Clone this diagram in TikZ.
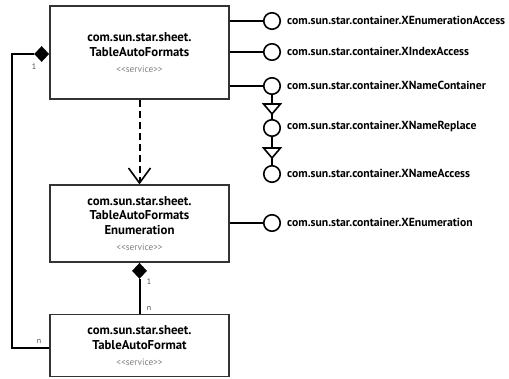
\documentclass[tikz,border=0pt]{standalone}
\usepackage{fontspec}
\setmainfont{PT Sans}
\usetikzlibrary{shapes.geometric,arrows.meta,calc}
\definecolor{boxline}{HTML}{333333}
\definecolor{svc}{HTML}{808080}
\begin{document}
\begin{tikzpicture}[x=1pt,y=-1pt,
  svcbox/.style={draw=boxline,line width=1.3pt,fill=white,minimum width=179pt,align=center,inner sep=0pt,
    font=\fontsize{12.8}{14.5}\selectfont\bfseries},
  iface/.style={circle,draw=black,line width=1.6pt,fill=white,minimum size=16.5pt,inner sep=0pt},
  ilabel/.style={anchor=west,inner sep=0pt,font=\fontsize{11.7}{14}\selectfont\bfseries},
  conn/.style={draw=black,line width=2pt},
  mult/.style={inner sep=0pt,font=\fontsize{8}{9}\selectfont,text=black!70},
  comp/.style={diamond,fill=black,inner sep=0pt,minimum width=15pt,minimum height=16pt}
]
\useasboundingbox (0,0) rectangle (509,378);
\newcommand{\svc}{\\[1.5pt]{\fontsize{9.3}{10}\selectfont\mdseries\color{svc}<\kern0pt<service>\kern0pt>}}
% boxes
\node[svcbox,minimum height=93pt] (b1) at (139.5,52.5) {com.sun.star.sheet.\\TableAutoFormats\svc};
\node[svcbox,minimum height=77pt] (b2) at (139.5,223.5) {com.sun.star.sheet.\\TableAutoFormats\\Enumeration\svc};
\node[svcbox,minimum height=62pt] (b3) at (139.5,345.5) {com.sun.star.sheet.\\TableAutoFormat\svc};
% interfaces
\node[iface] (c1) at (272,21) {};
\node[iface] (c2) at (272,52) {};
\node[iface] (c3) at (272,86) {};
\node[iface] (c4) at (272,128) {};
\node[iface] (c5) at (272,174) {};
\node[iface] (c6) at (272,223) {};
\node[ilabel] (l1) at (287,20) {com.sun.star.container.XEnumerationAccess};
\node[ilabel] (l2) at (287,51) {com.sun.star.container.XIndexAccess};
\node[ilabel] (l3) at (287,85) {com.sun.star.container.XNameContainer};
\node[ilabel] (l4) at (287,127) {com.sun.star.container.XNameReplace};
\node[ilabel] (l5) at (287,173) {com.sun.star.container.XNameAccess};
\node[ilabel] (l6) at (287,222) {com.sun.star.container.XEnumeration};
\draw[conn] (b1.east |- c1) -- (c1.west);
\draw[conn] (b1.east |- c2) -- (c2.west);
\draw[conn] (b1.east |- c3) -- (c3.west);
\draw[conn] (b2.east |- c6) -- (c6.west);
% inheritance
\draw[conn,line width=1.6pt] (c3.south) -- (c4.north);
\draw[conn,line width=1.6pt] (c4.south) -- (c5.north);
\draw[line width=1.6pt,fill=white,line join=miter] ($(c4.north)+(-8.5,-15)$) -- ++(17,0) -- ($(c4.north)+(0,-5)$) -- cycle;
\draw[line width=1.6pt,fill=white,line join=miter] ($(c5.north)+(-8.5,-17)$) -- ++(17,0) -- ($(c5.north)+(0,-7)$) -- cycle;
% dependency
\draw[conn,dash pattern=on 7pt off 4pt,-{Straight Barb[length=15pt,width=22pt,line width=1.6pt]}] (b1.south) -- (b2.north);
% compositions
\node[comp,anchor=east] (d1) at ($(b1.west)+(0,1.5)$) {};
\node[comp,anchor=north] (d2) at (b2.south) {};
\coordinate (corner) at ($(d1.west)+(-22,0)$);
\draw[conn] (d1.west) -- (corner) |- ($(b3.west)+(0,2.5)$);
\draw[conn] (d2.south) -- (b3.north);
\node[mult] (m1) at (34,67) {1};
\node[mult] (m2) at (39,341) {n};
\node[mult] (m3) at (149,282) {1};
\node[mult] (m4) at (149,308) {n};
\end{tikzpicture}
\end{document}
